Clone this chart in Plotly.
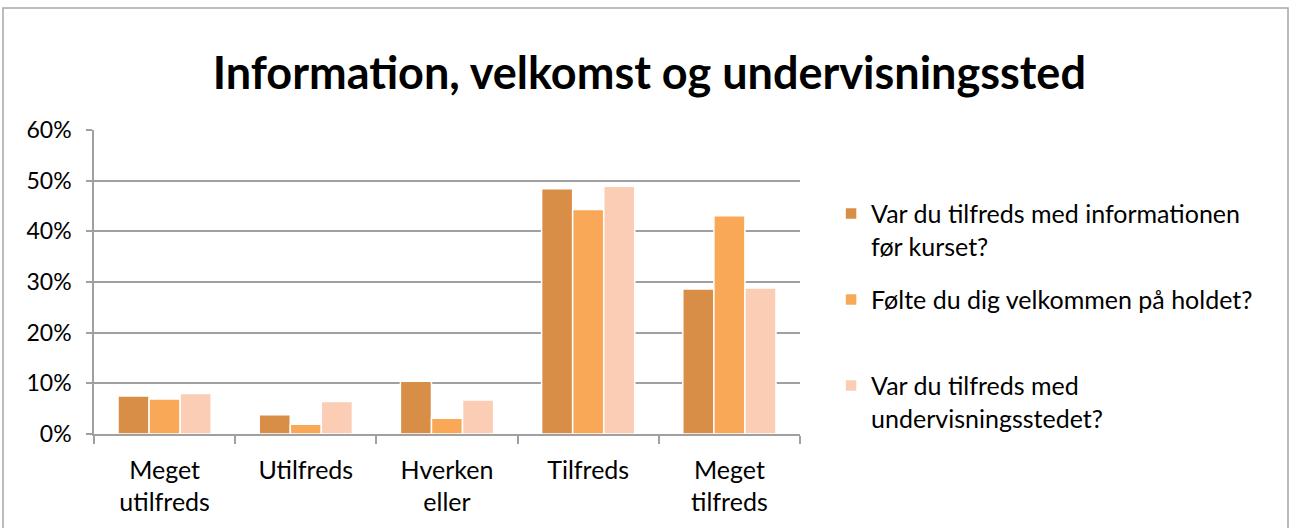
import plotly.graph_objects as go

categories = ["Meget<br>utilfreds", "Utilfreds", "Hverken<br>eller", "Tilfreds", "Meget<br>tilfreds"]
series_names = [
    "Var du tilfreds med informationen<br>før kurset?",
    "Følte du dig velkommen på holdet?<br> ",
    "Var du tilfreds med<br>undervisningsstedet?",
]
info_vals = [0.075, 0.038, 0.104, 0.484, 0.286]
welcome_vals = [0.069, 0.019, 0.031, 0.443, 0.431]
venue_vals = [0.080, 0.064, 0.067, 0.489, 0.288]
colors = ["#d98e48", "#f9a857", "#fbcdb5"]

FONT = "Lato"

fig = go.Figure()
for i, (name, vals) in enumerate(zip(series_names, [info_vals, welcome_vals, venue_vals])):
    fig.add_trace(go.Bar(
        x=categories, y=vals, name=name, legendgroup=str(i),
        marker=dict(color=colors[i], line=dict(color="white", width=1.5)),
    ))

# plot area: x 94..800 px, y 130..434 px
fig.update_layout(
    width=1291, height=528,
    margin=dict(l=94, r=491, t=130, b=94),
    paper_bgcolor="white", plot_bgcolor="white",
    font=dict(family=FONT, size=23, color="#000000"),
    title=dict(text="<b>Information, velkomst og undervisningssted</b>",
               x=0.503, xref="container", xanchor="center",
               y=1 - 73 / 528, yref="container", yanchor="middle",
               font=dict(family=FONT, size=45, color="#000000")),
    barmode="group", bargap=0.34, bargroupgap=0,
    showlegend=True,
    legend=dict(x=1.044, xanchor="left", y=0.8, yanchor="top",
                traceorder="grouped", tracegroupgap=18, valign="top",
                font=dict(family=FONT, size=25, color="#000000"),
                itemwidth=30, bgcolor="rgba(0,0,0,0)"),
    shapes=[dict(type="rect", xref="paper", yref="paper",
                 x0=(3 - 94) / 706, x1=(1288 - 94) / 706,
                 y0=(434 - 540) / 304, y1=(434 - 8) / 304,
                 line=dict(color="#a6a6a6", width=1.5), fillcolor="rgba(0,0,0,0)",
                 layer="below")],
)
fig.update_yaxes(range=[0, 0.6], dtick=0.1, tickformat=".0%",
                 showgrid=True, gridcolor="#a0a0a0", gridwidth=1.5,
                 showline=True, linecolor="#a0a0a0", linewidth=1.5,
                 ticks="outside", ticklen=6, tickcolor="#a0a0a0", tickwidth=1.5,
                 ticklabelstandoff=10,
                 zeroline=False, tickfont=dict(family=FONT, size=23))
fig.update_xaxes(showline=True, linecolor="#a0a0a0", linewidth=1.5,
                 ticks="outside", tickson="boundaries", ticklen=8,
                 tickcolor="#a0a0a0", tickwidth=1.5,
                 ticklabelstandoff=13,
                 tickfont=dict(family=FONT, size=25))

fig.write_html("out.html", config={"displayModeBar": False},
               post_script="document.body.style.margin='0';")
